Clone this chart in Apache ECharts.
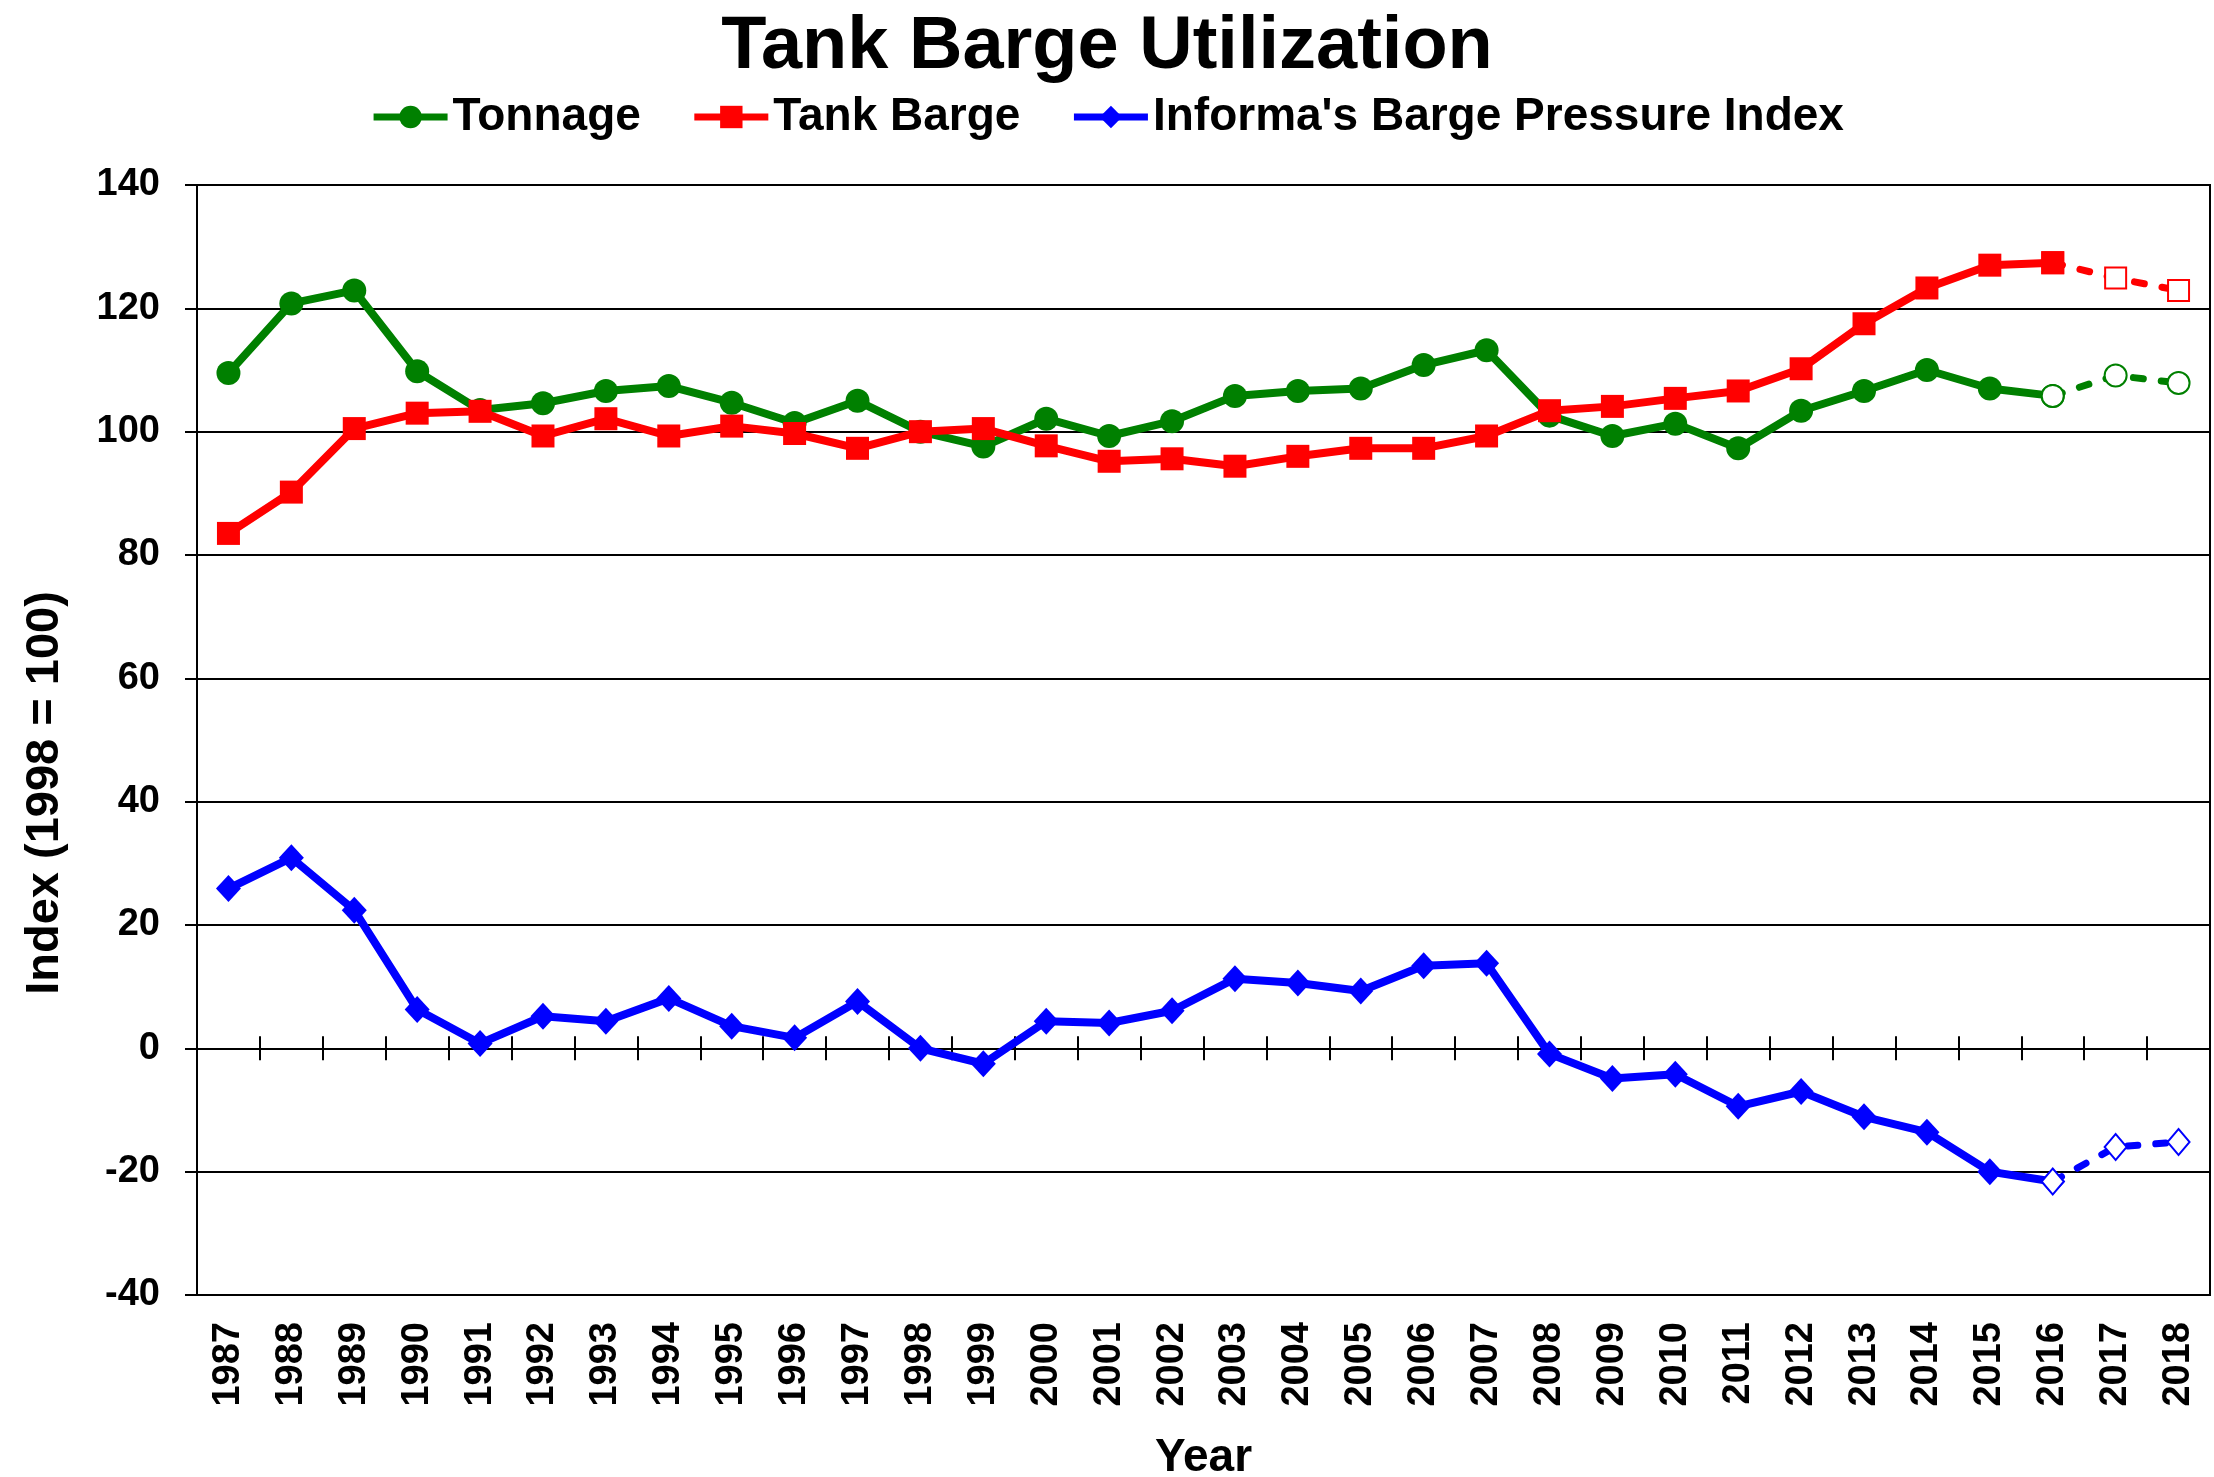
<!DOCTYPE html>
<html>
<head>
<meta charset="utf-8">
<script src="https://cdn.jsdelivr.net/npm/echarts@6/dist/echarts.min.js"></script>
<style>
  html, body { margin: 0; padding: 0; background: #fff; }
  #chart { width: 2214px; height: 1477px; }
</style>
</head>
<body>
<div id="chart"></div>
<script>
// ---- Data ----
const years = ['1987','1988','1989','1990','1991','1992','1993','1994','1995','1996','1997','1998','1999','2000','2001','2002','2003','2004','2005','2006','2007','2008','2009','2010','2011','2012','2013','2014','2015','2016','2017','2018'];

// Actual values 1987–2016
const tonnage = [109.5, 120.8, 122.9, 109.8, 103.5, 104.6, 106.6, 107.4, 104.7, 101.4, 105.0, 100.0, 97.6, 102.1, 99.3, 101.7, 105.8, 106.6, 107.0, 110.8, 113.2, 102.6, 99.3, 101.3, 97.3, 103.4, 106.6, 110.0, 107.0, 105.8];
const tankBarge = [83.5, 90.2, 100.5, 103.0, 103.3, 99.3, 102.1, 99.3, 100.9, 99.7, 97.3, 100.0, 100.5, 97.7, 95.2, 95.6, 94.4, 96.0, 97.3, 97.3, 99.3, 103.4, 104.1, 105.4, 106.6, 110.2, 117.5, 123.3, 127.0, 127.4];
const bpi = [25.9, 30.9, 22.4, 6.3, 0.8, 5.2, 4.4, 8.1, 3.6, 1.7, 7.6, 0.0, -2.5, 4.4, 4.1, 6.1, 11.3, 10.6, 9.3, 13.4, 13.8, -0.9, -4.9, -4.2, -9.4, -7.0, -11.1, -13.6, -20.0, -21.6];

// Forecast values 2017–2018
const tonnageForecast = [109.1, 107.9];
const tankBargeForecast = [124.9, 122.9];
const bpiForecast = [-16.0, -15.2];

const yTicks = { min: -40, max: 140, interval: 20 };

// ---- Helpers ----
function forecastData(actual, forecast) {
  const pad = new Array(actual.length - 1).fill(null);
  return pad.concat([actual[actual.length - 1]], forecast);
}

const FONT = "'Liberation Sans', Arial, sans-serif";
const GREEN = '#008000', RED = '#FF0000', BLUE = '#0000FF';
const LW = 8;
const dash = { width: 7, type: [10, 18], cap: 'round' };

const chart = echarts.init(document.getElementById('chart'));
chart.setOption({
  animation: false,
  backgroundColor: '#fff',
  title: {
    text: 'Tank Barge Utilization',
    left: 'center',
    top: 6,
    textStyle: { fontFamily: FONT, fontSize: 74, fontWeight: 'bold', color: '#000' }
  },
  legend: {
    data: ['Tonnage', 'Tank Barge', "Informa's Barge Pressure Index"],
    left: 'center',
    top: 94,
    padding: 0,
    itemWidth: 74,
    itemHeight: 28,
    itemGap: 50,
    lineStyle: { width: 7 },
    textStyle: { fontFamily: FONT, fontSize: 46, fontWeight: 'bold', color: '#000' }
  },
  grid: {
    left: 197, right: 4, top: 185, bottom: 182,
    containLabel: false, outerBoundsMode: 'none',
    show: true, borderColor: '#000', borderWidth: 2, backgroundColor: 'transparent'
  },
  xAxis: [
    {
      type: 'category', data: years, boundaryGap: true, position: 'bottom',
      axisLine: { onZero: false, lineStyle: { color: '#000', width: 2 } },
      axisTick: { show: false },
      axisLabel: { interval: 0, rotate: 90, margin: 27, color: '#000',
        fontFamily: FONT, fontSize: 38, fontWeight: 'bold' },
      name: 'Year', nameLocation: 'middle', nameGap: 140,
      nameTextStyle: { fontFamily: FONT, fontSize: 46, fontWeight: 'bold', color: '#000' },
      splitLine: { show: false }
    },
    {
      type: 'category', data: years, boundaryGap: true, position: 'bottom',
      axisLine: { onZero: true, onZeroAxisIndex: 0, lineStyle: { color: '#000', width: 2 } },
      axisTick: { show: true, inside: false, length: 12, lineStyle: { color: '#000', width: 2 } },
      axisLabel: { show: false }, splitLine: { show: false }
    },
    {
      type: 'category', data: years, boundaryGap: true, position: 'bottom',
      axisLine: { onZero: true, onZeroAxisIndex: 0, lineStyle: { color: '#000', width: 2 } },
      axisTick: { show: true, inside: true, length: 12, lineStyle: { color: '#000', width: 2 } },
      axisLabel: { show: false }, splitLine: { show: false }
    }
  ],
  yAxis: {
    type: 'value', min: yTicks.min, max: yTicks.max, interval: yTicks.interval,
    axisLine: { show: true, lineStyle: { color: '#000', width: 2 } },
    axisTick: { show: true, length: 12, lineStyle: { color: '#000', width: 2 } },
    axisLabel: { margin: 37, color: '#000', fontFamily: FONT, fontSize: 38, fontWeight: 'bold' },
    splitLine: { show: true, lineStyle: { color: '#000', width: 2 } },
    name: 'Index (1998 = 100)', nameLocation: 'middle', nameGap: 128, nameRotate: 90,
    nameTextStyle: { fontFamily: FONT, fontSize: 47, fontWeight: 'bold', color: '#000',
      padding: [0, 106, 0, 0] }
  },
  series: [
    {
      name: 'Tonnage', type: 'line', data: tonnage, z: 1,
      symbol: 'circle', symbolSize: 24, showAllSymbol: true,
      lineStyle: { color: GREEN, width: LW },
      itemStyle: { color: GREEN, borderWidth: 0 }
    },
    {
      name: 'Tonnage', type: 'line', data: forecastData(tonnage, tonnageForecast), z: 2,
      symbol: 'emptyCircle', symbolSize: 22, showAllSymbol: true,
      lineStyle: Object.assign({ color: GREEN }, dash),
      itemStyle: { color: GREEN, borderWidth: 2.5 }
    },
    {
      name: 'Tank Barge', type: 'line', data: tankBarge, z: 4,
      symbol: 'rect', symbolSize: 23, showAllSymbol: true,
      lineStyle: { color: RED, width: LW },
      itemStyle: { color: RED, borderWidth: 0 }
    },
    {
      name: 'Tank Barge', type: 'line', data: forecastData(tankBarge, tankBargeForecast), z: 3,
      symbol: 'emptyRect', symbolSize: 21, showAllSymbol: true,
      lineStyle: Object.assign({ color: RED }, dash),
      itemStyle: { color: RED, borderWidth: 2.5 }
    },
    {
      name: "Informa's Barge Pressure Index", type: 'line', data: bpi, z: 5,
      symbol: 'diamond', symbolSize: [25, 27], showAllSymbol: true,
      lineStyle: { color: BLUE, width: LW },
      itemStyle: { color: BLUE, borderWidth: 0 }
    },
    {
      name: "Informa's Barge Pressure Index", type: 'line', data: forecastData(bpi, bpiForecast), z: 6,
      symbol: 'emptyDiamond', symbolSize: [22, 26], showAllSymbol: true,
      lineStyle: Object.assign({ color: BLUE }, dash),
      itemStyle: { color: BLUE, borderWidth: 2.5 }
    }
  ]
});
</script>
</body>
</html>
